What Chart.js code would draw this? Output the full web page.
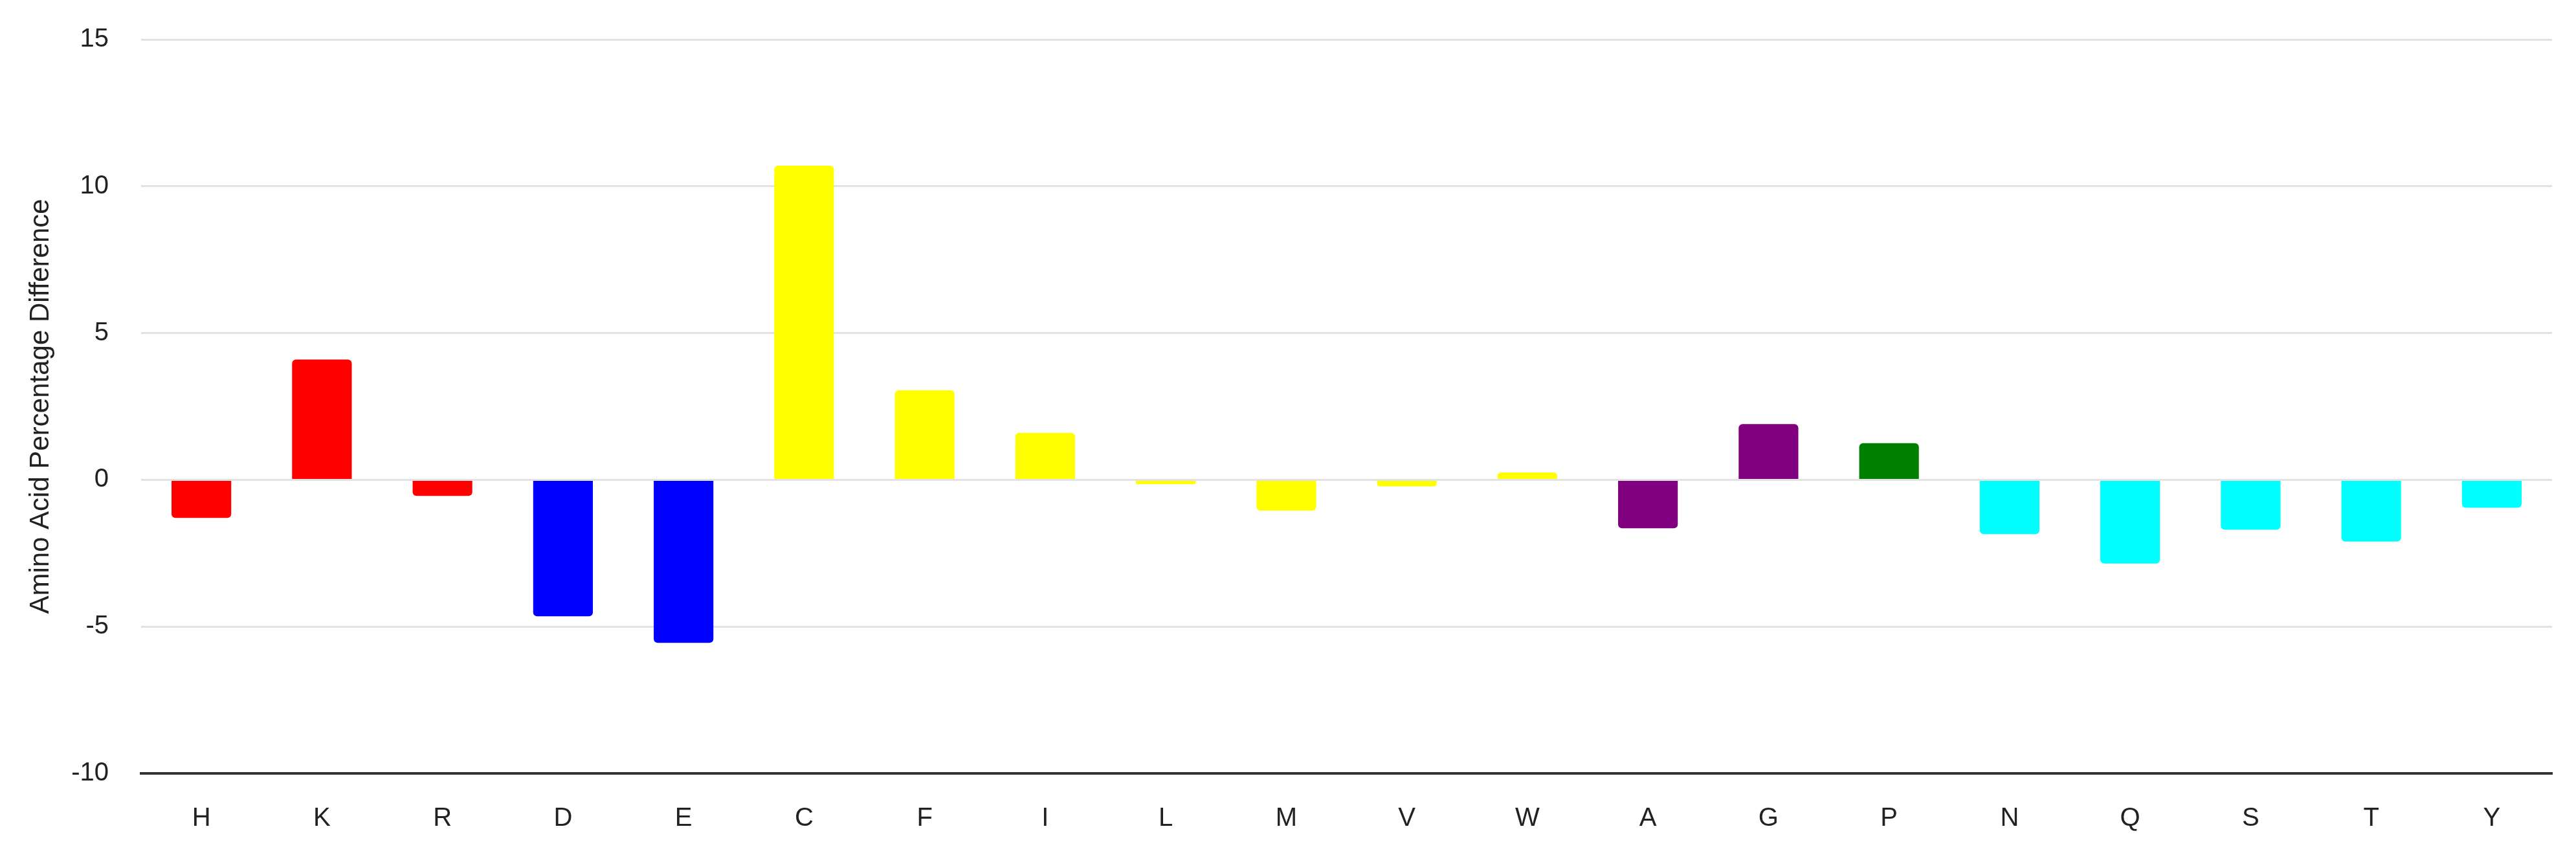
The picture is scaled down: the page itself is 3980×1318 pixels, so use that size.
<!DOCTYPE html>
<html>
<head>
<meta charset="utf-8">
<script src="https://cdn.jsdelivr.net/npm/chart.js@4.4.1/dist/chart.umd.min.js"></script>
<style>
  html, body { margin: 0; padding: 0; background: #fff; }
  #wrap { width: 3980px; height: 1318px; }
</style>
</head>
<body>
<div id="wrap"><canvas id="chart" width="3980" height="1318"></canvas></div>
<script>
// amino acids on the x axis
const categories = ['H', 'K', 'R', 'D', 'E', 'C', 'F', 'I', 'L', 'M', 'V', 'W', 'A', 'G', 'P', 'N', 'Q', 'S', 'T', 'Y'];
// percentage difference
const values = [-1.3, 4.1, -0.55, -4.65, -5.55, 10.7, 3.05, 1.6, -0.15, -1.05, -0.22, 0.25, -1.65, 1.9, 1.25, -1.85, -2.85, -1.7, -2.1, -0.95];
// residue group of each bar
const groups = ['basic', 'basic', 'basic', 'acidic', 'acidic',
    'hydrophobic', 'hydrophobic', 'hydrophobic', 'hydrophobic', 'hydrophobic', 'hydrophobic', 'hydrophobic',
    'small', 'small', 'proline', 'polar', 'polar', 'polar', 'polar', 'polar'];
const yTicks = [-10, -5, 0, 5, 10, 15];
const yTitle = 'Amino Acid Percentage Difference';

const groupColors = {
    basic: '#ff0000',
    acidic: '#0000ff',
    hydrophobic: '#ffff00',
    small: '#800080',
    proline: '#008000',
    polar: '#00ffff'
};

const FONT = 'Arial, "Liberation Sans", sans-serif';
const PLOT_LEFT = 218;

const ctx = document.getElementById('chart').getContext('2d');
new Chart(ctx, {
    type: 'bar',
    data: {
        labels: categories,
        datasets: [{
            data: values,
            backgroundColor: groups.map(g => groupColors[g]),
            borderWidth: 0,
            borderRadius: 6,
            borderSkipped: 'start',
            categoryPercentage: 1.0,
            barPercentage: 0.495
        }]
    },
    options: {
        responsive: false,
        animation: false,
        devicePixelRatio: 1,
        layout: { padding: { left: 20, right: 37, top: 61, bottom: 0 } },
        plugins: {
            legend: { display: false },
            tooltip: { enabled: false }
        },
        scales: {
            x: {
                grid: { display: false, drawTicks: false },
                border: { display: true, color: '#333333', width: 4 },
                ticks: {
                    color: '#222222',
                    padding: 46,
                    font: { family: FONT, size: 40 }
                },
                afterFit: (scale) => { scale.height = 123; }
            },
            y: {
                min: yTicks[0],
                max: yTicks[yTicks.length - 1],
                afterBuildTicks: (scale) => {
                    scale.ticks = yTicks.map(v => ({ value: v }));
                },
                grid: {
                    drawTicks: false,
                    lineWidth: 3,
                    color: (c) => c.tick && c.tick.value === yTicks[0] ? '#333333' : '#e2e2e2'
                },
                border: { display: false },
                ticks: {
                    color: '#222222',
                    padding: 50,
                    font: { family: FONT, size: 40 }
                },
                title: {
                    display: true,
                    text: yTitle,
                    color: '#222222',
                    padding: { top: 18, bottom: 0 },
                    font: { family: FONT, size: 42 }
                },
                afterFit: (scale) => {
                    // tick padding would otherwise push the plot top down
                    scale.width = PLOT_LEFT - 20;
                    scale.paddingTop = 0;
                    scale.paddingBottom = 0;
                }
            }
        }
    }
});
</script>
</body>
</html>
